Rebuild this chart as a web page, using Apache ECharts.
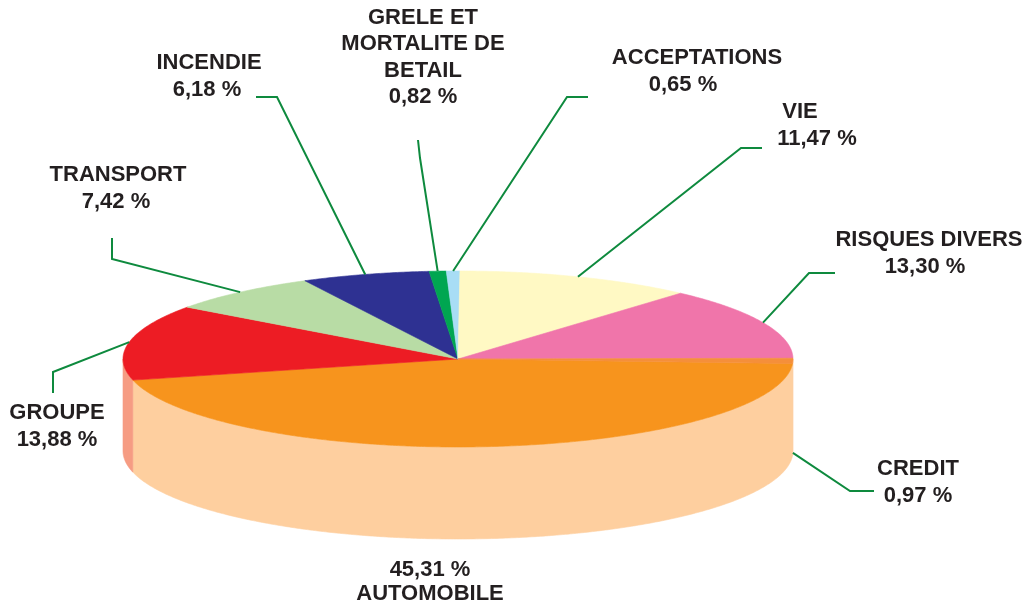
<!DOCTYPE html>
<html><head><meta charset="utf-8">
<script src="https://cdn.jsdelivr.net/npm/echarts@6/dist/echarts.min.js"></script>
<style>html,body{margin:0;padding:0;background:#fff}#chart{width:1027px;height:606px}</style>
</head><body><div id="chart"></div>
<script>
// ---- data ----
const categories = ['AUTOMOBILE', 'GROUPE', 'TRANSPORT', 'INCENDIE', 'GRELE ET\nMORTALITE DE\nBETAIL', 'ACCEPTATIONS', 'VIE', 'RISQUES DIVERS', 'CREDIT'];
const values = [45.31, 13.88, 7.42, 6.18, 0.82, 0.65, 11.47, 13.30, 0.97];
const valueLabels = values.map(v => v.toFixed(2).replace('.', ',') + ' %');

// ---- styles ----
const topColors = ['#F7941D', '#ED1C24', '#B8DCA5', '#2E3192', '#00A651', '#A8DDF5', '#FFF9C4', '#F075AA', '#F58F3A'];
const sideColors = ['#FECF9F', '#F69C83', '#D6EBCB', '#8C8EC4', '#80D2A8', '#D4EEFA', '#FFFCE2', '#F7B6D2', '#FECF9F'];
const textColor = '#231F20';
const lineColor = '#0E8A3E';
const FONT = 'bold 22px "Liberation Sans", Arial, sans-serif';

// ---- layout ----
const PIE = { cx: 458, cy: 359, rx: 335, ry: 88, depth: 92, start: 3 };
const labelLayout = [
  { x: 430, y: 570, lh: 24, valueFirst: true },
  { x: 57, y: 413 },
  { x: 118, y: 175, vdx: -2 },
  { x: 209, y: 63, vdx: -2 },
  { x: 423, y: 18, lh: 26.3 },
  { x: 697, y: 58, vdx: -14 },
  { x: 800, y: 112, vdx: 17 },
  { x: 929, y: 240, vdx: -4 },
  { x: 918, y: 469, lh: 27 }
];
const leaderLayout = [
  null,
  [[53, 393], [53, 372]],
  [[112, 238], [112, 259]],
  [[256, 97], [277, 97]],
  [[418, 140], [420, 158]],
  [[588, 97], [567, 97]],
  [[762, 148], [741, 148]],
  [[835, 273], [809, 273]],
  [[874, 491], [850, 491], 'bottom']
];

const total = values.reduce((a, b) => a + b, 0);
const angles = [];
(function () {
  let a = PIE.start;
  values.forEach(v => { const span = v / total * 360; angles.push([a, a + span]); a += span; });
})();

function pt(a, dy) {
  const r = a * Math.PI / 180;
  return [PIE.cx + PIE.rx * Math.cos(r), PIE.cy + PIE.ry * Math.sin(r) + (dy || 0)];
}
function arcPts(a0, a1, dy) {
  const n = Math.max(2, Math.ceil(Math.abs(a1 - a0) * 2));
  const out = [];
  for (let k = 0; k <= n; k++) out.push(pt(a0 + (a1 - a0) * k / n, dy));
  return out;
}

function renderItem(params, api) {
  const i = params.dataIndex;
  const a0 = angles[i][0], a1 = angles[i][1];
  const children = [];
  // side walls (front half only)
  [[0, 180], [360, 540]].forEach(([lo, hi]) => {
    const b0 = Math.max(a0, lo), b1 = Math.min(a1, hi);
    if (b1 > b0) {
      children.push({
        type: 'polygon', z2: 1,
        shape: { points: arcPts(b0, b1, 0).concat(arcPts(b1, b0, PIE.depth)) },
        style: { fill: sideColors[i], stroke: sideColors[i], lineWidth: 0.6 }
      });
    }
  });
  // top face
  children.push({
    type: 'polygon', z2: 2,
    shape: { points: [[PIE.cx, PIE.cy]].concat(arcPts(a0, a1, 0)) },
    style: { fill: topColors[i], stroke: topColors[i], lineWidth: 0.6 }
  });
  // leader line
  const ld = leaderLayout[i];
  if (ld) {
    const mid = (a0 + a1) / 2;
    const anchor = pt(mid, ld[2] === 'bottom' ? PIE.depth : 0);
    children.push({
      type: 'polyline', z2: 3,
      shape: { points: [ld[0], ld[1], anchor] },
      style: { stroke: lineColor, lineWidth: 2, fill: null }
    });
  }
  // labels
  const L = labelLayout[i];
  const lh = L.lh || 27;
  const name = categories[i];
  const nLines = name.split('\n').length;
  const valText = valueLabels[i];
  if (L.valueFirst) {
    children.push({ type: 'text', z2: 4, style: { text: valText, x: L.x + (L.vdx || 0), y: L.y, font: FONT, fill: textColor, align: 'center', verticalAlign: 'middle' } });
    children.push({ type: 'text', z2: 4, style: { text: name, x: L.x, y: L.y + lh, font: FONT, fill: textColor, align: 'center', verticalAlign: 'middle', lineHeight: lh } });
  } else {
    children.push({ type: 'text', z2: 4, style: { text: name, x: L.x, y: L.y - lh / 2, font: FONT, fill: textColor, align: 'center', verticalAlign: 'top', lineHeight: lh } });
    children.push({ type: 'text', z2: 4, style: { text: valText, x: L.x + (L.vdx || 0), y: L.y + nLines * lh, font: FONT, fill: textColor, align: 'center', verticalAlign: 'middle' } });
  }
  return { type: 'group', children: children };
}

const chart = echarts.init(document.getElementById('chart'), null, { renderer: 'canvas' });
chart.setOption({
  backgroundColor: '#ffffff',
  animation: false,
  series: [{
    type: 'custom',
    coordinateSystem: 'none',
    renderItem: renderItem,
    data: values.map((v, i) => ({ name: categories[i], value: [i, v] }))
  }]
});
</script>
</body></html>
